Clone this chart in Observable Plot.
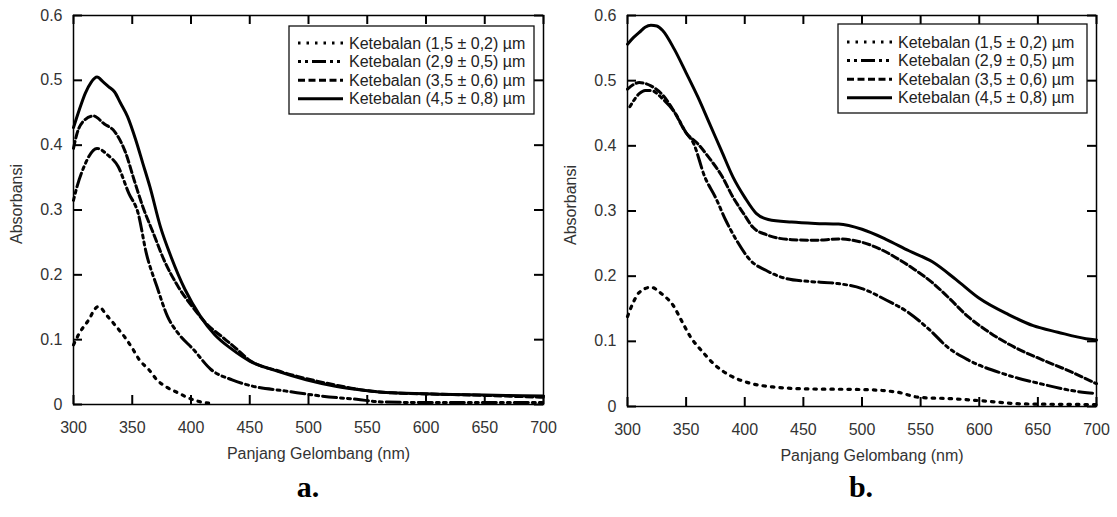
<!DOCTYPE html>
<html>
<head>
<meta charset="utf-8">
<script src="https://cdn.jsdelivr.net/npm/d3@7"></script>
<script src="https://cdn.jsdelivr.net/npm/@observablehq/plot@0.6"></script>
<style>
  html, body { margin: 0; padding: 0; background: #fff; }
  #wrap { position: relative; width: 1117px; height: 517px; overflow: hidden; font-family: "Liberation Sans", Arial, sans-serif; }
  .panel { position: absolute; top: 0; }
  .tag { position: absolute; top: 470px; font: bold 30px "Liberation Serif", "Times New Roman", serif; color: #000; transform: translateX(-50%); }
</style>
</head>
<body>
<div id="wrap">
  <div class="panel" id="pa" style="left:0px"></div>
  <div class="panel" id="pb" style="left:560px"></div>
  <div class="tag" style="left:308px">a.</div>
  <div class="tag" style="left:861px">b.</div>
</div>
<script>
// ---------- data ----------
const seriesLabels = [
  "Ketebalan (1,5 ± 0,2) µm",
  "Ketebalan (2,9 ± 0,5) µm",
  "Ketebalan (3,5 ± 0,6) µm",
  "Ketebalan (4,5 ± 0,8) µm"
];
const xTicks = [300, 350, 400, 450, 500, 550, 600, 650, 700];
const yTicks = [0, 0.1, 0.2, 0.3, 0.4, 0.5, 0.6];
const xLabel = "Panjang Gelombang (nm)";
const yLabel = "Absorbansi";

// Panel a
const aDotNm  = [300,305,312,321,329,336,344,350,356,364,371,380,389,398,406,415];
const aDotAbs = [0.092,0.110,0.128,0.151,0.136,0.121,0.103,0.087,0.069,0.054,0.038,0.026,0.018,0.010,0.005,0.002];
const aDdNm   = [300,303,309,320,329,338,347,355,362,371,380,389,402,417,435,453,480,511,541,562,602,662,700];
const aDdAbs  = [0.315,0.336,0.367,0.395,0.385,0.367,0.326,0.295,0.233,0.182,0.136,0.110,0.085,0.054,0.038,0.028,0.021,0.013,0.008,0.004,0.003,0.003,0.003];
const aDaNm   = [300,303,309,317,326,335,344,352,359,368,377,389,402,414,426,438,450,474,498,523,547,571,610,668,700];
const aDaAbs  = [0.395,0.418,0.438,0.445,0.433,0.421,0.390,0.344,0.305,0.264,0.223,0.182,0.149,0.123,0.105,0.087,0.068,0.052,0.040,0.030,0.022,0.018,0.016,0.013,0.011];
const aSoNm   = [300,305,310,315,320,325,330,335,340,346,353,359,365,374,383,395,408,420,435,450,474,498,523,547,571,610,668,700];
const aSoAbs  = [0.427,0.455,0.480,0.497,0.505,0.498,0.490,0.482,0.465,0.444,0.408,0.372,0.336,0.274,0.228,0.177,0.136,0.108,0.085,0.067,0.051,0.038,0.028,0.022,0.018,0.016,0.014,0.013];

// Panel b
const bDotNm  = [300,305,310,320,329,339,346,354,363,375,387,402,424,454,500,530,549,576,600,637,700];
const bDotAbs = [0.138,0.160,0.175,0.183,0.173,0.155,0.132,0.106,0.086,0.063,0.048,0.037,0.030,0.027,0.026,0.022,0.014,0.012,0.009,0.004,0.003];
const bDdNm   = [302,310,315,320,330,340,350,356,366,375,384,393,405,418,436,454,478,500,521,539,558,573,591,621,652,688,700];
const bDdAbs  = [0.460,0.480,0.485,0.485,0.472,0.452,0.420,0.405,0.352,0.321,0.285,0.255,0.224,0.209,0.196,0.192,0.189,0.181,0.163,0.145,0.117,0.091,0.071,0.050,0.035,0.022,0.020];
const bDaNm   = [300,305,310,320,330,340,350,360,369,381,390,399,407,418,440,460,480,500,515,533,545,560,575,591,606,630,652,676,700];
const bDaAbs  = [0.487,0.494,0.497,0.492,0.478,0.452,0.420,0.403,0.383,0.352,0.321,0.296,0.275,0.264,0.256,0.255,0.257,0.252,0.242,0.224,0.210,0.190,0.165,0.137,0.117,0.091,0.073,0.055,0.035];
const bSoNm   = [300,305,310,315,320,325,330,340,350,360,370,380,390,400,410,420,440,460,480,500,520,540,560,580,600,625,646,667,691,700];
const bSoAbs  = [0.556,0.566,0.574,0.582,0.585,0.584,0.577,0.548,0.512,0.475,0.434,0.393,0.352,0.321,0.296,0.287,0.283,0.281,0.280,0.272,0.257,0.239,0.222,0.195,0.166,0.141,0.124,0.114,0.104,0.102];

// ---------- styling ----------
const dashes = ["2.5,6", "3,4,3,4,14,4", "7,3.5", null];
const widths = [3.2, 3, 3, 3];
const TICK = 9;

function toRows(nm, abs) { return nm.map((x, i) => ({x, y: abs[i]})); }

function makePanel(sets, opt) {
  const H = 460, MT = 15;
  const innerH = H - MT - opt.mb;
  const innerW = opt.width - opt.ml - opt.mr;
  const lineMarks = sets.map((s, i) => Plot.line(toRows(s[0], s[1]), {
    x: "x", y: "y", stroke: "black", strokeWidth: widths[i],
    strokeDasharray: dashes[i] || undefined, curve: "monotone-x"
  }));
  const fmtY = d => d === 0 ? "0" : d.toFixed(1);
  const tk = { stroke: "black", strokeWidth: 2 };
  const svg = Plot.plot({
    width: opt.width, height: H,
    marginLeft: opt.ml, marginRight: opt.mr, marginTop: MT, marginBottom: opt.mb,
    style: { fontFamily: "'Liberation Sans', Arial, sans-serif", fontSize: "16px", color: "#333", background: "white", overflow: "visible" },
    x: { domain: [300, 700] },
    y: { domain: [0, 0.6] },
    marks: [
      ...lineMarks,
      // inward ticks on all four sides
      Plot.tickX(xTicks, { ...tk, x: d => d, insetTop: innerH - TICK }),
      Plot.tickX(xTicks, { ...tk, x: d => d, insetBottom: innerH - TICK }),
      Plot.tickY(yTicks, { ...tk, y: d => d, insetRight: innerW - TICK }),
      Plot.tickY(yTicks, { ...tk, y: d => d, insetLeft: innerW - TICK }),
      Plot.axisX({ ticks: xTicks, tickSize: 0, tickPadding: 17, label: null, fontSize: 16, tickFormat: d => String(d) }),
      Plot.axisY({ ticks: yTicks, tickSize: 0, tickPadding: 11, label: null, fontSize: 16, tickFormat: fmtY }),
      Plot.frame({ stroke: "black", strokeWidth: 1.5 }),
      Plot.text([xLabel], { frameAnchor: "bottom", textAnchor: "middle", lineAnchor: "middle", dy: 49, dx: 10, fontSize: 16, fill: "#333" }),
      Plot.text([yLabel], { frameAnchor: "left", textAnchor: "middle", lineAnchor: "middle", rotate: -90, dx: -56.5, dy: -6, fontSize: 16, fill: "#333" })
    ]
  });
  // legend box
  const g = d3.select(svg).append("g");
  g.append("rect").attr("x", opt.lx).attr("y", opt.ly).attr("width", opt.lw).attr("height", opt.lh)
    .attr("fill", "white").attr("stroke", "#111").attr("stroke-width", 1.3);
  seriesLabels.forEach((lab, i) => {
    const y = opt.ly + opt.r0 + i * 18.6;
    g.append("line").attr("x1", opt.lx + 9).attr("x2", opt.lx + 54).attr("y1", y).attr("y2", y)
      .attr("stroke", "black").attr("stroke-width", 3).attr("stroke-dasharray", dashes[i]);
    g.append("text").attr("x", opt.lx + 60).attr("y", y).attr("dy", "0.35em")
      .attr("text-anchor", "start")
      .attr("font-family", "'Liberation Sans', Arial, sans-serif").attr("font-size", 16).attr("fill", "#222").text(lab);
  });
  return svg;
}

document.getElementById("pa").appendChild(makePanel(
  [[aDotNm, aDotAbs], [aDdNm, aDdAbs], [aDaNm, aDaAbs], [aSoNm, aSoAbs]],
  { width: 560, ml: 73, mr: 17, mb: 56, lx: 289, ly: 26, lw: 245, lh: 88, r0: 17 }
));
document.getElementById("pb").appendChild(makePanel(
  [[bDotNm, bDotAbs], [bDdNm, bDdAbs], [bDaNm, bDaAbs], [bSoNm, bSoAbs]],
  { width: 557, ml: 67, mr: 21, mb: 54, lx: 278, ly: 24, lw: 249, lh: 89, r0: 18 }
));
</script>
</body>
</html>
